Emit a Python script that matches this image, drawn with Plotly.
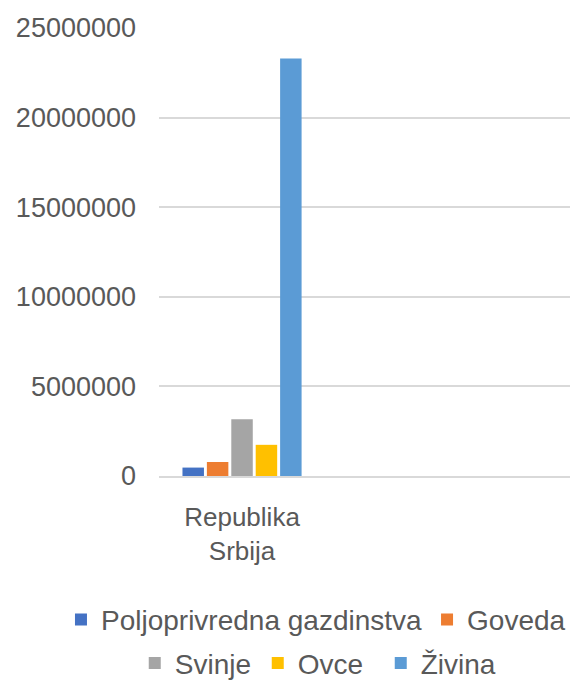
import plotly.graph_objects as go

categories = ["Republika<br>Srbija"]
series_names = ["Poljoprivredna gazdinstva", "Goveda", "Svinje", "Ovce", "Živina"]
series_values = [[470000], [780000], [3170000], [1740000], [23300000]]
series_colors = ["#4472C4", "#ED7D31", "#A5A5A5", "#FFC000", "#5B9BD5"]
series_legend = ["legend", "legend", "legend2", "legend2", "legend2"]
y_ticks = [0, 5000000, 10000000, 15000000, 20000000, 25000000]

FONT = "Liberation Sans, Arial, sans-serif"
TXT = "#595959"

fig = go.Figure()
for name, vals, col, lg in zip(series_names, series_values, series_colors, series_legend):
    fig.add_trace(go.Bar(x=categories, y=vals, name=name, marker_color=col,
                         marker_line_width=0, legend=lg))

fig.update_layout(
    width=570, height=680, autosize=False,
    margin=dict(l=159, r=0, t=28, b=204, autoexpand=False),
    paper_bgcolor="white", plot_bgcolor="white",
    barmode="group", bargap=0.265, bargroupgap=0.12,
    font=dict(family=FONT, color=TXT, size=26),
    legend=dict(orientation="h", x=-0.2385, xanchor="left",
                y=-0.321, yanchor="middle",
                font=dict(size=28, color=TXT), itemwidth=30, bgcolor="rgba(0,0,0,0)"),
    legend2=dict(orientation="h", x=-0.059, xanchor="left",
                 y=-0.418, yanchor="middle", entrywidth=78, entrywidthmode="pixels",
                 font=dict(size=28, color=TXT), itemwidth=30, bgcolor="rgba(0,0,0,0)"),
)
fig.update_xaxes(type="category", range=[-0.5, 1.975], showgrid=False,
                 showline=True, linecolor="#D9D9D9", linewidth=1.5,
                 ticks="", tickfont=dict(size=26, color=TXT), ticklabelstandoff=17)
fig.update_yaxes(range=[0, 25000000], tickvals=y_ticks, ticktext=[str(v) for v in y_ticks],
                 showgrid=True, gridcolor="#D9D9D9", gridwidth=1.5, zeroline=False,
                 showline=False, ticks="", tickfont=dict(size=27, color=TXT),
                 ticklabelstandoff=22)

fig.write_html("out.html", config={"displayModeBar": False},
               post_script="document.body.style.margin='0';document.body.style.overflow='hidden';")
